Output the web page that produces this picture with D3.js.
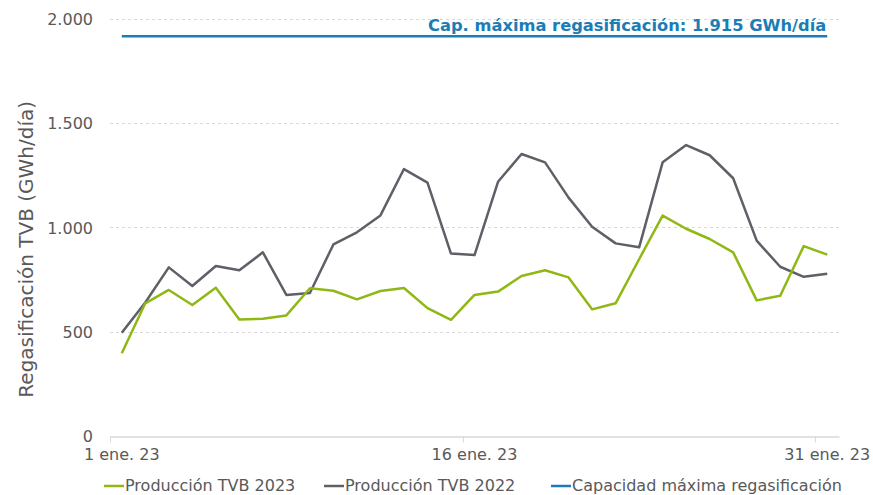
<!DOCTYPE html>
<meta charset="utf-8">
<style>
body { margin: 0; background: #fff; }
text { font-family: "DejaVu Sans", Verdana, sans-serif; }
.grid line { stroke: #d9d9d9; stroke-dasharray: 3,3; }
.axis text { fill: #595959; font-size: 16px; }
</style>
<body>
<div id="chart"></div>
<script src="https://cdn.jsdelivr.net/npm/d3@7"></script>
<script>
// dias de enero 2023 y valores (GWh/dia)
var days = d3.range(1, 32);
var prod2023 = [397, 636, 700, 628, 711, 559, 562, 578, 708, 696, 655, 695, 709, 613, 557,
                676, 692, 767, 794, 760, 607, 636, 847, 1056, 993, 944, 880, 650, 672, 910, 869];
var prod2022 = [495, 640, 808, 719, 815, 794, 880, 676, 685, 918, 976, 1057, 1279, 1214, 874,
                867, 1218, 1351, 1311, 1142, 1003, 923, 904, 1311, 1394, 1345, 1235, 936, 811, 763, 778];
var capMax = 1915;
var yTicks = [0, 500, 1000, 1500, 2000];
var xTickDays = [1, 16, 31];
var seriesNames = ["Producción TVB 2023", "Producción TVB 2022", "Capacidad máxima regasificación"];
var colors = ["#8fb814", "#5d6066", "#1a7db6"];

var width = 873, height = 495;
var margin = {top: 18, right: 34, bottom: 58, left: 110};

var es = d3.timeFormatLocale({
  dateTime: "%A, %e de %B de %Y, %X", date: "%d/%m/%Y", time: "%H:%M:%S",
  periods: ["AM", "PM"],
  days: ["domingo","lunes","martes","miércoles","jueves","viernes","sábado"],
  shortDays: ["dom","lun","mar","mié","jue","vie","sáb"],
  months: ["enero","febrero","marzo","abril","mayo","junio","julio","agosto","septiembre","octubre","noviembre","diciembre"],
  shortMonths: ["ene.","feb.","mar.","abr.","may.","jun.","jul.","ago.","sept.","oct.","nov.","dic."]
});
var fmtDate = es.format("%-d %b %y");
var numLocale = d3.formatLocale({decimal: ",", thousands: ".", grouping: [3], currency: ["", " €"]});
var fmtNum = numLocale.format(",d");

var svg = d3.select("#chart").append("svg")
    .attr("width", width)
    .attr("height", height);

var x = d3.scaleBand()
    .domain(days)
    .range([margin.left, width - margin.right])
    .padding(0);
var cx = function(d) { return x(d) + x.bandwidth() / 2; };

var y = d3.scaleLinear()
    .domain([0, 2000])
    .range([height - margin.bottom - 0.9, margin.top + 0.5]);

// lineas de cuadricula
svg.append("g")
    .attr("class", "grid")
    .selectAll("line")
    .data(yTicks.filter(function(d) { return d > 0; }))
    .enter().append("line")
    .attr("x1", margin.left)
    .attr("x2", width - margin.right)
    .attr("y1", function(d) { return Math.round(y(d)) + 0.5; })
    .attr("y2", function(d) { return Math.round(y(d)) + 0.5; });

// eje y
var yAxis = svg.append("g")
    .attr("class", "axis")
    .attr("transform", "translate(" + (margin.left - 17) + ",0)")
    .call(d3.axisLeft(y).tickValues(yTicks).tickFormat(fmtNum).tickSize(0).tickPadding(0));
yAxis.select(".domain").remove();
yAxis.selectAll("text").attr("dy", "0.36em");

// eje x
var x0 = Math.round(y(0)) + 0.5;
var xAxis = svg.append("g")
    .attr("class", "axis")
    .attr("transform", "translate(0," + x0 + ")")
    .call(d3.axisBottom(x).tickValues(xTickDays).tickSize(0).tickPadding(12)
      .tickFormat(function(d) { return fmtDate(new Date(2023, 0, d)); }));
xAxis.select(".domain").attr("stroke", "#d9d9d9").attr("stroke-width", 1.3);
xAxis.selectAll(".tick line").remove();
xAxis.selectAll(".tick text").attr("dy", "0.71em");
xAxis.selectAll(".xt")
    .data(xTickDays)
    .enter().append("line")
    .attr("x1", function(d) { return Math.round(x(d)) + 0.5; })
    .attr("x2", function(d) { return Math.round(x(d)) + 0.5; })
    .attr("y1", 0)
    .attr("y2", 6)
    .attr("stroke", "#d9d9d9");

// linea de capacidad
svg.append("line")
    .attr("x1", cx(days[0]))
    .attr("x2", cx(days[days.length - 1]))
    .attr("y1", y(capMax))
    .attr("y2", y(capMax))
    .attr("stroke", colors[2])
    .attr("stroke-width", 2.5);

svg.append("text")
    .attr("x", cx(days[days.length - 1]) - 1)
    .attr("y", y(capMax) - 5)
    .attr("text-anchor", "end")
    .attr("fill", colors[2])
    .style("font-size", "16.3px")
    .style("font-weight", "bold")
    .text("Cap. máxima regasificación: " + fmtNum(capMax) + " GWh/día");

// series
var line = d3.line()
    .x(function(d, i) { return cx(days[i]); })
    .y(function(d) { return y(d); });

svg.append("path")
    .datum(prod2022)
    .attr("fill", "none")
    .attr("stroke", colors[1])
    .attr("stroke-width", 2.5)
    .attr("stroke-linejoin", "round")
    .attr("d", line);

svg.append("path")
    .datum(prod2023)
    .attr("fill", "none")
    .attr("stroke", colors[0])
    .attr("stroke-width", 2.5)
    .attr("stroke-linejoin", "round")
    .attr("d", line);

// titulo eje y
svg.append("text")
    .attr("transform", "translate(33," + ((y(0) + y(2000)) / 2 + 22) + ") rotate(-90)")
    .attr("text-anchor", "middle")
    .attr("fill", "#595959")
    .style("font-size", "20px")
    .text("Regasificación TVB (GWh/día)");

// leyenda
var legendX = [104, 324, 551];
var legend = svg.selectAll(".legend")
    .data(seriesNames)
    .enter().append("g")
    .attr("class", "legend")
    .attr("transform", function(d, i) { return "translate(" + legendX[i] + ",486)"; });
legend.append("line")
    .attr("x1", 0).attr("x2", 20)
    .attr("y1", 0).attr("y2", 0)
    .attr("stroke", function(d, i) { return colors[i]; })
    .attr("stroke-width", 2.5);
legend.append("text")
    .attr("x", 21)
    .attr("dy", "0.33em")
    .attr("fill", "#595959")
    .style("font-size", "16px")
    .text(function(d) { return d; });
</script>
